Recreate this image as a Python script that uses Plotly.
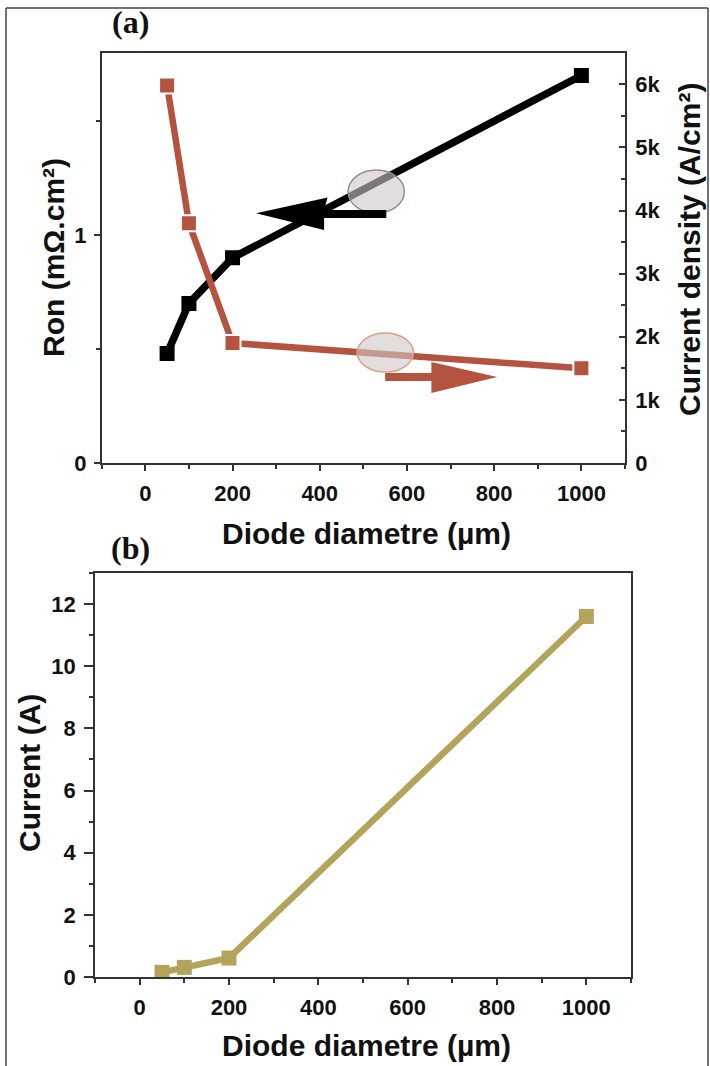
import plotly.graph_objects as go

# ---------------- data ----------------
DIAMETER = [50, 100, 200, 1000]            # µm
RON = [0.48, 0.70, 0.90, 1.70]             # mΩ.cm²
CURRENT_DENSITY = [5980, 3800, 1900, 1500] # A/cm²
CURRENT = [0.15, 0.31, 0.61, 11.6]         # A

X_TICKS = [0, 200, 400, 600, 800, 1000]
RON_TICKS = [0, 1]
JD_TICKS = [0, 1000, 2000, 3000, 4000, 5000, 6000]
JD_TICKTEXT = ["0", "1k", "2k", "3k", "4k", "5k", "6k"]
I_TICKS = [0, 2, 4, 6, 8, 10, 12]

BLACK = "#000000"
RED = "#B4533F"
GOLD = "#B3A45B"
AXC = "#333333"
FONT = "Liberation Sans"

W, H = 710, 1066

fig = go.Figure()

fig.add_trace(go.Scatter(
    x=DIAMETER, y=RON, mode="lines+markers", xaxis="x", yaxis="y",
    line=dict(color=BLACK, width=7.5),
    marker=dict(symbol="square", size=15, color=BLACK)))
fig.add_trace(go.Scatter(
    x=DIAMETER, y=CURRENT_DENSITY, mode="lines+markers", xaxis="x", yaxis="y2",
    line=dict(color=RED, width=6.5),
    marker=dict(symbol="square", size=16, color=RED, line=dict(color="white", width=2))))
fig.add_trace(go.Scatter(
    x=DIAMETER, y=CURRENT, mode="lines+markers", xaxis="x2", yaxis="y3",
    line=dict(color=GOLD, width=6.5),
    marker=dict(symbol="square", size=15, color=GOLD)))

tickfont = dict(family=FONT, size=22, color="#111", weight="bold")

def px_x(a0, a1):
    return [a0 / W, a1 / W]

def px_y(top, bottom):
    return [1 - bottom / H, 1 - top / H]

common = dict(showgrid=False, zeroline=False, showline=True, linecolor=AXC,
              linewidth=1.5, tickcolor=AXC, tickwidth=1.5, tickfont=tickfont,
              automargin=False)

fig.update_layout(
    width=W, height=H, margin=dict(l=0, r=0, t=0, b=0),
    paper_bgcolor="white", plot_bgcolor="white", showlegend=False,
    xaxis=dict(domain=px_x(101.7, 625), anchor="y", range=[-100, 1100],
               tickvals=X_TICKS, ticks="outside", ticklen=6, mirror=True,
               minor=dict(dtick=100, ticks="outside", ticklen=4, tickcolor=AXC),
               ticklabelstandoff=4, **common),
    yaxis=dict(domain=px_y(52.7, 463), anchor="x", range=[0, 1.8],
               tickvals=RON_TICKS, ticks="outside", ticklen=6,
               minor=dict(dtick=0.5, ticks="outside", ticklen=4, tickcolor=AXC),
               ticklabelstandoff=3, **common),
    yaxis2=dict(overlaying="y", side="right", anchor="x", range=[0, 6500],
                tickvals=JD_TICKS, ticktext=JD_TICKTEXT, ticks="inside", ticklen=6,
                minor=dict(dtick=500, ticks="inside", ticklen=4, tickcolor=AXC),
                ticklabelstandoff=4, **common),
    xaxis2=dict(domain=px_x(95, 631), anchor="y3", range=[-100, 1100],
                tickvals=X_TICKS, ticks="outside", ticklen=6, mirror=True,
                minor=dict(dtick=100, ticks="outside", ticklen=4, tickcolor=AXC),
                ticklabelstandoff=4, **common),
    yaxis3=dict(domain=px_y(573, 977), anchor="x2", range=[0, 13],
                tickvals=I_TICKS, ticks="outside", ticklen=9, mirror=True,
                minor=dict(dtick=1, ticks="outside", ticklen=4, tickcolor=AXC),
                ticklabelstandoff=4, **common),
)

titlefont = dict(family=FONT, size=30, color="#111", weight="bold")
serif = dict(family="Liberation Serif", size=32, color="#111", weight="bold")

def ann(text, x, y, font, angle=0):
    fig.add_annotation(text=text, x=x / W, y=1 - y / H, xref="paper", yref="paper",
                       showarrow=False, font=font, textangle=angle,
                       xanchor="center", yanchor="middle")

ann("Diode diametre (µm)", 366, 533, titlefont)
ann("Diode diametre (µm)", 366, 1045, titlefont)
ann("Ron (mΩ.cm²)", 54, 258, titlefont, -90)
ann("Current density (A/cm²)", 690, 250, titlefont, -90)
ann("Current (A)", 29, 773, titlefont, -90)
ann("(a)", 130, 22, serif)
ann("(b)", 130, 548, serif)

# outer frame
for x0, y0, x1, y1 in [(6, 8, 708, 8), (6, 8, 6, H), (708, 8, 708, H)]:
    fig.add_shape(type="line", xref="paper", yref="paper",
                  x0=x0 / W, y0=1 - y0 / H, x1=x1 / W, y1=1 - y1 / H,
                  line=dict(color="#444", width=1.5))

# highlight ellipses (data coords of panel a)
fig.add_shape(type="circle", xref="x", yref="y", x0=465, x1=594, y0=1.096, y1=1.285,
              fillcolor="rgba(205,200,198,0.6)", line=dict(color="#9b8b86", width=1.5),
              layer="above")
fig.add_shape(type="circle", xref="x", yref="y", x0=486, x1=615, y0=0.399, y1=0.570,
              fillcolor="rgba(205,200,198,0.6)", line=dict(color="#dc9f8a", width=1.5),
              layer="above")

# direction arrows
fig.add_shape(type="path", xref="x", yref="y", layer="above",
              path="M 552.6 1.110 L 410 1.110 L 418 1.165 L 254 1.096 L 410 1.022 "
                   "L 410 1.075 L 552.6 1.075 Z",
              fillcolor=BLACK, line=dict(width=0))
fig.add_shape(type="path", xref="x", yref="y", layer="above",
              path="M 550 0.395 L 656 0.395 L 656 0.443 L 807 0.377 L 656 0.307 "
                   "L 656 0.360 L 550 0.360 Z",
              fillcolor=RED, line=dict(width=0))

fig.write_html("out.html",
               config={"displayModeBar": False},
               post_script="document.body.style.margin='0';"
                           "document.body.style.overflow='hidden';")
